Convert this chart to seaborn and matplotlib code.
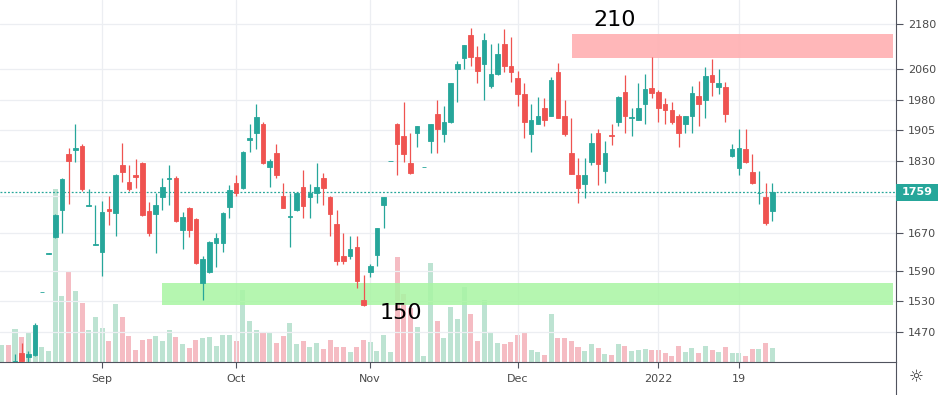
import numpy as np
import pandas as pd
import matplotlib
matplotlib.use("Agg")
import matplotlib.pyplot as plt
import seaborn as sns
from matplotlib.patches import Rectangle
from matplotlib.lines import Line2D
from matplotlib.ticker import NullLocator, FixedLocator, FixedFormatter

# ---------------- data ----------------
opens = [1400, 1405, 1410, 1432, 1425, 1428, 1548, 1626, 1661, 1719,
         1848, 1856, 1865, 1728, 1645, 1629, 1721, 1712, 1820, 1781,
         1797, 1825, 1717, 1710, 1748, 1789, 1790, 1675, 1723, 1699,
         1566, 1588, 1648, 1648, 1725, 1779, 1768, 1880, 1897, 1920,
         1816, 1849, 1750, 1703, 1719, 1770, 1747, 1758, 1792, 1747,
         1688, 1621, 1621, 1640, 1532, 1588, 1623, 1730, 1830, 1920,
         1889, 1825, 1897, 1816, 1877, 1943, 1894, 1925, 2058, 2088,
         2150, 2090, 2073, 2016, 2045, 2127, 2068, 2035, 1995, 1894,
         1920, 1958, 1938, 2050, 1938, 1849, 1799, 1777, 1828, 1896,
         1808, 1893, 1925, 2000, 1934, 1928, 1968, 2010, 1999, 1970,
         1953, 1940, 1918, 1938, 1988, 1980, 2043, 2012, 2012, 1843,
         1813, 1858, 1804, 1756, 1747, 1716]
highs = [1405, 1410, 1430, 1451, 1436, 1488, 1549, 1627, 1710, 1790,
         1860, 1920, 1870, 1766, 1730, 1740, 1750, 1800, 1872, 1820,
         1835, 1828, 1736, 1756, 1792, 1820, 1795, 1714, 1725, 1701,
         1621, 1652, 1669, 1714, 1775, 1799, 1853, 1920, 1968, 1925,
         1835, 1870, 1779, 1758, 1760, 1810, 1777, 1825, 1802, 1750,
         1719, 1669, 1663, 1663, 1582, 1604, 1681, 1748, 1831, 1922,
         1973, 1896, 1915, 1817, 1918, 1978, 1965, 2023, 2080, 2124,
         2169, 2120, 2155, 2127, 2130, 2166, 2146, 2055, 2022, 1970,
         1987, 1985, 2038, 2076, 1978, 1933, 1837, 1837, 1896, 1908,
         1877, 1918, 1990, 2043, 1960, 2022, 2045, 2090, 2005, 1983,
         1975, 1945, 1940, 2014, 2027, 2063, 2085, 2058, 2025, 1870,
         1906, 1906, 1848, 1808, 1779, 1779]
lows = [1395, 1398, 1405, 1414, 1416, 1426, 1548, 1626, 1659, 1669,
        1732, 1828, 1762, 1727, 1644, 1580, 1686, 1663, 1781, 1762,
        1768, 1706, 1663, 1627, 1719, 1730, 1693, 1636, 1661, 1604,
        1532, 1586, 1598, 1629, 1701, 1751, 1766, 1851, 1858, 1823,
        1770, 1790, 1723, 1640, 1717, 1701, 1701, 1734, 1730, 1663,
        1602, 1604, 1614, 1556, 1521, 1578, 1600, 1681, 1830, 1797,
        1828, 1801, 1863, 1816, 1849, 1849, 1875, 1922, 1973, 2060,
        2068, 2022, 1980, 2010, 2043, 2050, 2025, 1965, 1884, 1851,
        1918, 1915, 1938, 1933, 1891, 1801, 1734, 1745, 1820, 1775,
        1779, 1868, 1915, 1896, 1891, 1928, 1920, 1984, 1923, 1920,
        1918, 1863, 1896, 1896, 1915, 1935, 1990, 1993, 1923, 1841,
        1799, 1825, 1777, 1732, 1686, 1695]
closes = [1402, 1400, 1418, 1418, 1430, 1484, 1549, 1627, 1708, 1788,
          1830, 1860, 1766, 1731, 1647, 1714, 1717, 1799, 1806, 1766,
          1793, 1708, 1669, 1730, 1770, 1791, 1695, 1703, 1675, 1606,
          1614, 1650, 1658, 1712, 1763, 1756, 1851, 1884, 1936, 1825,
          1830, 1799, 1723, 1706, 1756, 1728, 1758, 1770, 1768, 1710,
          1610, 1610, 1636, 1570, 1523, 1600, 1681, 1747, 1831, 1870,
          1846, 1803, 1915, 1817, 1918, 1908, 1925, 2023, 2073, 2122,
          2090, 2053, 2138, 2045, 2098, 2068, 2050, 1995, 1925, 1930,
          1940, 1928, 2030, 1935, 1894, 1801, 1768, 1797, 1873, 1823,
          1849, 1889, 1987, 1940, 1937, 1958, 2008, 1996, 1958, 1955,
          1923, 1896, 1938, 1996, 1968, 2040, 2025, 2022, 1943, 1858,
          1860, 1828, 1779, 1758, 1690, 1759]
volumes = [17, 17, 33, 25, 30, 35, 15, 11, 173, 66,
           90, 71, 59, 32, 45, 34, 21, 58, 45, 26,
           12, 22, 23, 26, 21, 32, 25, 18, 14, 22,
           24, 25, 16, 27, 27, 21, 72, 41, 32, 30,
           30, 19, 26, 39, 18, 21, 15, 19, 13, 22,
           15, 15, 10, 15, 22, 20, 11, 27, 10, 105,
           68, 54, 35, 6, 99, 41, 24, 55, 43, 75,
           48, 21, 62, 30, 19, 18, 20, 27, 29, 12,
           10, 7, 48, 24, 24, 21, 15, 11, 18, 14,
           8, 7, 18, 16, 11, 12, 13, 12, 12, 9,
           6, 16, 10, 14, 9, 16, 12, 10, 15, 9,
           9, 6, 13, 13, 19, 14]

month_tick_idx = [15, 35, 55, 77, 98, 110]
month_labels = ["Sep", "Oct", "Nov", "Dec", "2022", "19"]
price_ticks = [1470, 1530, 1590, 1670, 1750, 1830, 1905, 1980, 2060, 2180]
price_tick_labels = ["1470", "1530", "1590", "1670", "", "1830", "1905", "1980", "2060", "2180"]
last_price = 1759

resist_zone = (2088, 2154)
resist_start = 85.1
resist_label = "210"
support_zone = (1522, 1565)
support_start = 24.0
support_label = "150"

# ---------------- style ----------------
TEAL = "#26a69a"
RED = "#ef5350"
VOL_UP = "#bde3d2"
VOL_DOWN = "#f5bcc3"
GRID = "#eceef2"
AXC = "#50535e"
TXT = "#4a4a4a"

sns.set_theme(style="white")
plt.rcParams["font.family"] = ["DejaVu Sans"]

W, H = 938, 395
fig = plt.figure(figsize=(W / 100, H / 100), dpi=100)
fig.patch.set_facecolor("white")
ax_right_px = 895.7
ax_bottom_px = 33
rect = [0, ax_bottom_px / H, ax_right_px / W, 1 - ax_bottom_px / H]
ax = fig.add_axes(rect)
ax_vol = ax.twinx()
ax_vol.set_zorder(ax.get_zorder() - 1)
ax.patch.set_visible(False)

n = len(opens)
o = np.array(opens, float)
h = np.array(highs, float)
l = np.array(lows, float)
c = np.array(closes, float)
x = np.arange(n)
up = c >= o

# ---------------- volume (seaborn) ----------------
df = pd.DataFrame({"idx": x, "volume": volumes,
                   "dir": np.where(up, "up", "down")})
sns.barplot(data=df, x="idx", y="volume", hue="dir",
            palette={"up": VOL_UP, "down": VOL_DOWN},
            native_scale=True, dodge=False, width=0.75, errorbar=None,
            saturation=1, legend=False, linewidth=0, ax=ax_vol)
ax_vol.set_ylim(0, 362)
ax_vol.set_yticks([])
ax_vol.set_ylabel("")
ax_vol.set_xlabel("")
for s in ax_vol.spines.values():
    s.set_visible(False)

# ---------------- price axis ----------------
ax.set_yscale("log")
ax.set_ylim(1415.5, 2249)
ax.set_xlim(-0.24, 133.4)

# zones
xr = ax.get_xlim()[1]
ax.fill_between([resist_start, xr - 0.4], resist_zone[0], resist_zone[1],
                color="#ffb3b5", lw=0, zorder=1.5, alpha=0.95)
ax.fill_between([support_start, xr - 0.4], support_zone[0], support_zone[1],
                color="#a8f5a3", lw=0, zorder=1.5, alpha=0.85)

# candles
colors = np.where(up, TEAL, RED)
ax.vlines(x, l, h, colors=colors, lw=0.9, zorder=3)
ax.bar(x, np.abs(c - o), bottom=np.minimum(o, c), width=0.68,
       color=colors, edgecolor=colors, linewidth=0.6, zorder=4)

# last price line
ax.axhline(last_price, color=TEAL, lw=0.9, ls=(0, (1.5, 1.5)), zorder=2)

# zone labels
ax.text(91.4, 2191, resist_label, ha="center", va="center",
        fontsize=16, color="black", zorder=6)
ax.text(59.5, 1508, support_label, ha="center", va="center",
        fontsize=16, color="black", zorder=6)

# ticks / grid
ax.yaxis.tick_right()
ax.yaxis.set_major_locator(FixedLocator(price_ticks))
ax.yaxis.set_major_formatter(FixedFormatter(price_tick_labels))
ax.yaxis.set_minor_locator(NullLocator())
ax.xaxis.set_major_locator(FixedLocator(month_tick_idx))
ax.xaxis.set_major_formatter(FixedFormatter(month_labels))
ax.xaxis.set_minor_locator(NullLocator())
ax.grid(True, color=GRID, lw=0.9)
ax.set_axisbelow(True)
ax.tick_params(axis="y", which="major", right=True, left=False, length=5,
               width=0.8, color=AXC, labelsize=8, labelcolor=TXT, pad=4)
ax.tick_params(axis="x", which="major", bottom=True, length=4, width=0.8,
               color=AXC, labelsize=8, labelcolor=TXT, pad=5)
for side in ("left", "top"):
    ax.spines[side].set_visible(False)
for side in ("right", "bottom"):
    ax.spines[side].set_visible(True)
    ax.spines[side].set_color(AXC)
    ax.spines[side].set_linewidth(0.8)

# last price tag on the axis
ypix = ax.transData.transform((0, last_price))[1]
fy = ypix / H
tag_h = 17 / H
fig.add_artist(Rectangle((ax_right_px / W, fy - tag_h / 2), 1 - ax_right_px / W, tag_h,
                         transform=fig.transFigure, facecolor=TEAL, edgecolor="none",
                         zorder=10))
fig.text((ax_right_px + 21) / W, fy, str(last_price), ha="center", va="center",
         color="white", fontsize=8, fontweight="bold", zorder=11)

# bottom-right corner
fig.add_artist(Line2D([ax_right_px / W] * 2, [0, ax_bottom_px / H],
                      transform=fig.transFigure, color=AXC, lw=0.8))
fig.text(916 / W, 18 / H, "\u263c", ha="center", va="center",
         fontsize=12, color="#333333")

fig.savefig("out.png", dpi=100)
